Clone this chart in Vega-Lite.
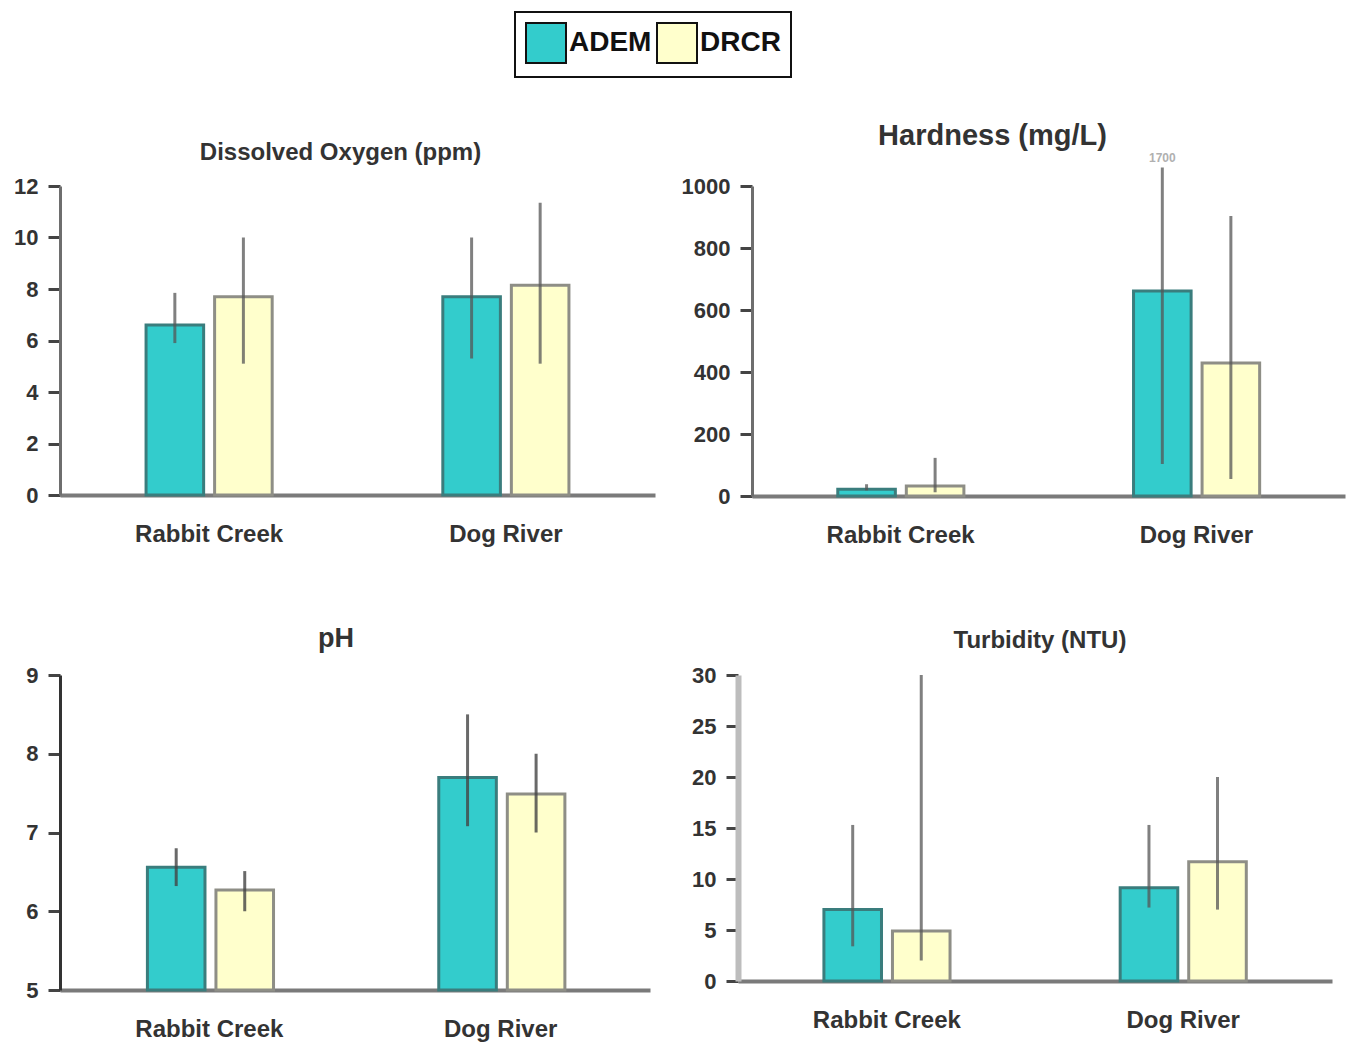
{
  "$schema": "https://vega.github.io/schema/vega-lite/v6.json",
  "background": "white",
  "padding": {"left": 0, "top": 11, "right": 4, "bottom": 4},
  "datasets": {
    "main": [
      {"param": "DO", "site": "Rabbit Creek", "agency": "ADEM", "value": 6.6, "lo": 5.9, "hi": 7.85},
      {"param": "DO", "site": "Rabbit Creek", "agency": "DRCR", "value": 7.7, "lo": 5.1, "hi": 10.0},
      {"param": "DO", "site": "Dog River", "agency": "ADEM", "value": 7.7, "lo": 5.3, "hi": 10.0},
      {"param": "DO", "site": "Dog River", "agency": "DRCR", "value": 8.15, "lo": 5.1, "hi": 11.35},
      {"param": "Hardness", "site": "Rabbit Creek", "agency": "ADEM", "value": 22, "lo": 18, "hi": 38},
      {"param": "Hardness", "site": "Rabbit Creek", "agency": "DRCR", "value": 32, "lo": 12, "hi": 123},
      {"param": "Hardness", "site": "Dog River", "agency": "ADEM", "value": 661, "lo": 103, "hi": 1060},
      {"param": "Hardness", "site": "Dog River", "agency": "DRCR", "value": 429, "lo": 55, "hi": 903},
      {"param": "pH", "site": "Rabbit Creek", "agency": "ADEM", "value": 6.56, "lo": 6.32, "hi": 6.8},
      {"param": "pH", "site": "Rabbit Creek", "agency": "DRCR", "value": 6.27, "lo": 6.0, "hi": 6.51},
      {"param": "pH", "site": "Dog River", "agency": "ADEM", "value": 7.7, "lo": 7.08, "hi": 8.5},
      {"param": "pH", "site": "Dog River", "agency": "DRCR", "value": 7.49, "lo": 7.0, "hi": 8.0},
      {"param": "Turbidity", "site": "Rabbit Creek", "agency": "ADEM", "value": 7.0, "lo": 3.4, "hi": 15.3},
      {"param": "Turbidity", "site": "Rabbit Creek", "agency": "DRCR", "value": 4.9, "lo": 2.0, "hi": 30.0},
      {"param": "Turbidity", "site": "Dog River", "agency": "ADEM", "value": 9.15, "lo": 7.2, "hi": 15.3},
      {"param": "Turbidity", "site": "Dog River", "agency": "DRCR", "value": 11.7, "lo": 7.0, "hi": 20.0}
    ],
    "note": [
      {"param": "Hardness", "site": "Dog River", "agency": "ADEM", "y": 1090, "label": "1700"}
    ]
  },
  "config": {
    "view": {"stroke": null},
    "font": "Liberation Sans",
    "axis": {
      "grid": false,
      "labelFont": "Liberation Sans",
      "labelFontWeight": "bold",
      "labelColor": "#333333",
      "labelFontSize": 22,
      "domainColor": "#6e6e6e",
      "domainWidth": 3,
      "tickColor": "#444444",
      "tickWidth": 3,
      "tickSize": 12,
      "title": null
    },
    "axisX": {"ticks": false, "labelAngle": 0, "labelFontSize": 24, "labelPadding": 27, "domainColor": "#7a7a7a", "domainWidth": 4},
    "axisY": {"labelPadding": 10, "format": "d"},
    "title": {"font": "Liberation Sans", "fontWeight": "bold", "color": "#333333", "anchor": "middle"},
    "legend": {
      "orient": "none",
      "legendX": 455,
      "legendY": -174,
      "direction": "horizontal",
      "title": null,
      "symbolType": "square",
      "symbolSize": 1600,
      "symbolStrokeColor": "#111111",
      "symbolStrokeWidth": 2,
      "symbolOpacity": 1,
      "labelFont": "Liberation Sans",
      "labelFontWeight": "bold",
      "labelFontSize": 28,
      "labelColor": "#111111",
      "labelOffset": 2,
      "columnPadding": 1,
      "strokeColor": "#111111",
      "strokeWidth": 2,
      "fillColor": "white",
      "padding": 10
    }
  },
  "spacing": 78,
  "resolve": {"scale": {"color": "shared"}},
  "vconcat": [
    {
      "spacing": 21,
      "hconcat": [
        {
          "width": 595, "height": 309,
          "title": {"text": "Dissolved Oxygen (ppm)", "fontSize": 24, "dx": -17, "offset": 10},
          "data": {"name": "main"},
          "transform": [{"filter": "datum.param === 'DO'"}],
          "encoding": {
            "x": {"field": "site", "type": "nominal", "sort": ["Rabbit Creek", "Dog River"], "scale": {"paddingInner": 0.575, "paddingOuter": 0.29}},
            "xOffset": {"field": "agency", "type": "nominal", "scale": {"paddingInner": 0.16}}
          },
          "layer": [
            {
              "mark": {"type": "bar", "strokeWidth": 3},
              "encoding": {
                "y": {"field": "value", "type": "quantitative", "scale": {"domain": [0, 12]}, "axis": {"values": [0, 2, 4, 6, 8, 10, 12], "minExtent": 58}},
                "color": {"field": "agency", "type": "nominal", "scale": {"domain": ["ADEM", "DRCR"], "range": ["#33cccc", "#ffffcc"]}, "legend": {}},
                "stroke": {"condition": {"test": "datum.agency === 'ADEM'", "value": "#3a7d7d"}, "value": "#8e8e86"}
              }
            },
            {
              "mark": {"type": "rule", "strokeWidth": 3, "color": "#555555", "opacity": 0.75},
              "encoding": {"y": {"field": "lo", "type": "quantitative"}, "y2": {"field": "hi"}}
            }
          ]
        },
        {
          "width": 593, "height": 310,
          "title": {"text": "Hardness (mg/L)", "fontSize": 29, "dx": -56, "offset": 1},
          "data": {"name": "main"},
          "transform": [{"filter": "datum.param === 'Hardness'"}],
          "encoding": {
            "x": {"field": "site", "type": "nominal", "sort": ["Rabbit Creek", "Dog River"], "scale": {"paddingInner": 0.575, "paddingOuter": 0.29}},
            "xOffset": {"field": "agency", "type": "nominal", "scale": {"paddingInner": 0.16}}
          },
          "layer": [
            {
              "mark": {"type": "bar", "strokeWidth": 3},
              "encoding": {
                "y": {"field": "value", "type": "quantitative", "scale": {"domain": [0, 1000]}, "axis": {"values": [0, 200, 400, 600, 800, 1000], "minExtent": 76}},
                "color": {"field": "agency", "type": "nominal"},
                "stroke": {"condition": {"test": "datum.agency === 'ADEM'", "value": "#3a7d7d"}, "value": "#8e8e86"}
              }
            },
            {
              "mark": {"type": "rule", "strokeWidth": 3, "color": "#555555", "opacity": 0.75},
              "encoding": {"y": {"field": "lo", "type": "quantitative"}, "y2": {"field": "hi"}}
            },
            {
              "data": {"name": "note"},
              "mark": {"type": "text", "fontSize": 12, "color": "#b0b0b0", "fontWeight": "bold"},
              "encoding": {"y": {"field": "y", "type": "quantitative"}, "text": {"field": "label"}}
            }
          ]
        }
      ]
    },
    {
      "spacing": 40,
      "hconcat": [
        {
          "width": 590, "height": 315,
          "title": {"text": "pH", "fontSize": 27, "dx": -19, "offset": 11},
          "data": {"name": "main"},
          "transform": [{"filter": "datum.param === 'pH'"}],
          "encoding": {
            "x": {"field": "site", "type": "nominal", "sort": ["Rabbit Creek", "Dog River"], "scale": {"paddingInner": 0.575, "paddingOuter": 0.3}},
            "xOffset": {"field": "agency", "type": "nominal", "scale": {"paddingInner": 0.16}}
          },
          "layer": [
            {
              "mark": {"type": "bar", "strokeWidth": 3},
              "encoding": {
                "y": {"field": "value", "type": "quantitative", "scale": {"domain": [5, 9], "zero": false}, "axis": {"values": [5, 6, 7, 8, 9], "domainColor": "#333333", "minExtent": 60}},
                "y2": {"datum": 5},
                "color": {"field": "agency", "type": "nominal"},
                "stroke": {"condition": {"test": "datum.agency === 'ADEM'", "value": "#3a7d7d"}, "value": "#8e8e86"}
              }
            },
            {
              "mark": {"type": "rule", "strokeWidth": 3, "color": "#444444", "opacity": 0.8},
              "encoding": {"y": {"field": "lo", "type": "quantitative"}, "y2": {"field": "hi"}}
            }
          ]
        },
        {
          "width": 594, "height": 306,
          "title": {"text": "Turbidity  (NTU)", "fontSize": 24, "dx": 5, "offset": 11},
          "data": {"name": "main"},
          "transform": [{"filter": "datum.param === 'Turbidity'"}],
          "encoding": {
            "x": {"field": "site", "type": "nominal", "sort": ["Rabbit Creek", "Dog River"], "scale": {"paddingInner": 0.575, "paddingOuter": 0.29}},
            "xOffset": {"field": "agency", "type": "nominal", "scale": {"paddingInner": 0.12}}
          },
          "layer": [
            {
              "mark": {"type": "bar", "strokeWidth": 3},
              "encoding": {
                "y": {"field": "value", "type": "quantitative", "scale": {"domain": [0, 30]}, "axis": {"values": [0, 5, 10, 15, 20, 25, 30], "domainColor": "#bdbdbd", "domainWidth": 6, "minExtent": 48}},
                "color": {"field": "agency", "type": "nominal"},
                "stroke": {"condition": {"test": "datum.agency === 'ADEM'", "value": "#3a7d7d"}, "value": "#8e8e86"}
              }
            },
            {
              "mark": {"type": "rule", "strokeWidth": 3, "color": "#555555", "opacity": 0.75},
              "encoding": {"y": {"field": "lo", "type": "quantitative"}, "y2": {"field": "hi"}}
            }
          ]
        }
      ]
    }
  ]
}
